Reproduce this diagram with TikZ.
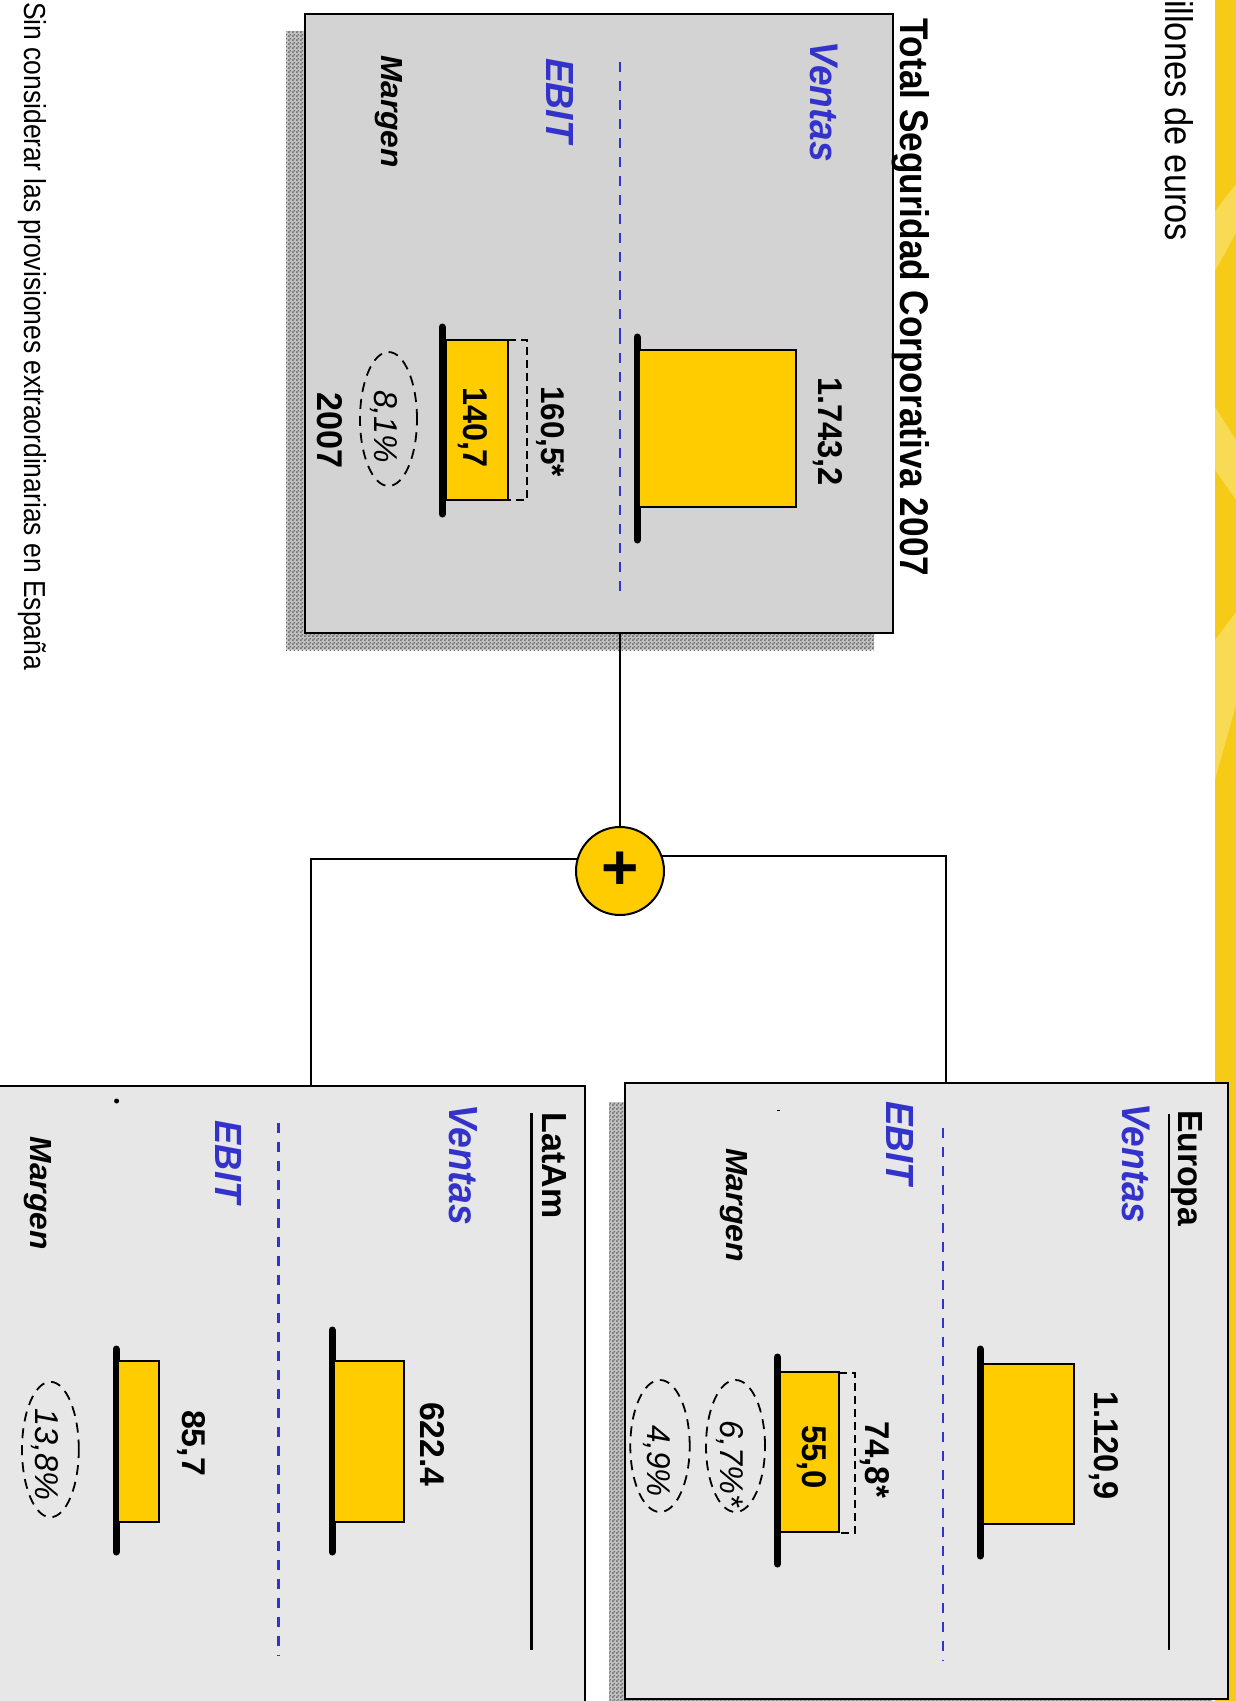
\documentclass[tikz,border=0pt]{standalone}
\usepackage{fontspec}
\setmainfont{Liberation Sans}
\usepackage{graphicx}
\usetikzlibrary{patterns}
\definecolor{bandyellow}{HTML}{F5CB17}
\definecolor{streak}{HTML}{F8DA55}
\definecolor{barfill}{HTML}{FFCC00}
\definecolor{topgray}{HTML}{D3D3D3}
\definecolor{boxgray}{HTML}{E7E7E7}
\definecolor{lblblue}{HTML}{3333CC}
\definecolor{shadowgray}{HTML}{6E6E6E}
\definecolor{shadowbase}{HTML}{C4C4C4}
\pgfdeclarepatternformonly{chk}{\pgfpointorigin}{\pgfpoint{4pt}{4pt}}{\pgfpoint{4pt}{4pt}}{%
 \pgfpathrectangle{\pgfpointorigin}{\pgfpoint{2pt}{2pt}}%
 \pgfpathrectangle{\pgfpoint{2pt}{2pt}}{\pgfpoint{2pt}{2pt}}%
 \pgfusepath{fill}}
\newcommand{\fitt}[3]{\resizebox{#1pt}{#2pt}{#3}}
\tikzset{
 txt/.style={rotate=-90, anchor=base west, inner sep=0pt, outer sep=0pt},
 bluetxt/.style={txt, text=lblblue},
 panel/.style={draw=black, line width=2.8pt, inner sep=0pt, outer sep=0pt},
 conn/.style={draw=black, line width=2pt},
 baseaxis/.style={line width=7pt, line cap=round},
 bar/.style={draw=black, line width=1.8pt, fill=barfill},
 extdash/.style={draw=black, line width=1.8pt, dash pattern=on 8pt off 5pt},
 bluedash/.style={draw=lblblue, dash pattern=on 10pt off 9pt},
 elldash/.style={draw=black, line width=1.8pt, dash pattern=on 10pt off 7pt},
 shadow/.style={pattern=chk, pattern color=shadowgray}
}
\begin{document}
\begin{tikzpicture}[x=1pt, y=-1pt]
\path[use as bounding box] (0,0) rectangle (1236,1701);
\clip (0,0) rectangle (1236,1701);
\fill[white] (0,0) rectangle (1236,1701);
% yellow band at the right
\fill[bandyellow] (1215,0) rectangle (1236,1701);
\fill[streak] (1215,211) -- (1236,184) -- (1236,233) -- (1215,271) -- cycle;
\fill[streak] (1215,407) -- (1236,440) -- (1236,500) -- (1215,470) -- cycle;
\fill[streak] (1215,640) -- (1236,612) -- (1236,705) -- (1215,780) -- cycle;
% unit
\node[txt] (unit) at (1165,0) {\fitt{241}{28}{illones de euros}};
% footnote
\node[txt] (foot) at (24,2) {\fitt{668}{22}{Sin considerar las provisiones extraordinarias en España}};

% shadows
\fill[shadowbase] (286,31) rectangle (874,650);
\fill[shadow] (286,31) rectangle (874,650);
\fill[shadowbase] (609,1102) rectangle (1212,1720);
\fill[shadow] (609,1102) rectangle (1212,1720);

% panels
\node[panel, fill=topgray, minimum width=588pt, minimum height=619pt] (topbox) at (599,323.5) {};
\node[panel, fill=boxgray, minimum width=603pt, minimum height=616pt] (europa) at (926.5,1391) {};
\node[panel, fill=boxgray, minimum width=586pt, minimum height=634pt] (latam) at (292,1403) {};

% sum circle and connectors
\node[draw=black, line width=2pt, circle, fill=barfill, minimum size=88pt, inner sep=0pt] (plus) at (620,871) {\fontsize{64}{64}\selectfont\bfseries +};
\coordinate (latamjoin) at (311,1086);
\coordinate (europajoin) at (946,1083);
\draw[conn] (plus.north) -- (plus.north |- topbox.south);
\draw[conn] (plus.165) -| (latamjoin);
\draw[conn] (plus.20) -| (europajoin);

% ===== Total box =====
\node[txt] (ttitle) at (900,18) {\fitt{558}{29}{\bfseries Total Seguridad Corporativa 2007}};
\node[bluetxt] (tventas) at (810,41.7) {\fitt{120}{27.5}{\bfseries\itshape Ventas}};
\node[bluetxt] (tebit) at (546,58) {\fitt{85}{27}{\bfseries\itshape EBIT}};
\node[txt] (tmargen) at (381,55) {\fitt{113}{21}{\bfseries\itshape Margen}};
\draw[bluedash, line width=1.2pt] (620,62) -- (620,334);
\draw[bluedash, line width=2.2pt] (620,334) -- (620,594);
\draw[baseaxis] (637,337) -- (637,540);
\draw[bar] (639,350) rectangle (796,507);
\node[txt] (tv) at (818,377) {\fitt{109}{24}{\bfseries 1.743,2}};
\draw[baseaxis] (442,327) -- (442,514);
\draw[bar] (446,340) rectangle (508,500);
\draw[extdash] (508,340) -- (527,340) -- (527,500) -- (508,500);
\node[txt] (te) at (463,387) {\fitt{81}{24}{\bfseries 140,7}};
\node[txt] (tes) at (541,386) {\fitt{91}{23}{\bfseries 160,5*}};
\draw[elldash] (388.5,419) ellipse [x radius=28.5pt, y radius=67pt];
\node[txt] (tm) at (374,390) {\fitt{73}{23}{\itshape 8,1\%}};
\node[txt] (tyear) at (317,392.5) {\fitt{76}{25}{\bfseries 2007}};

% ===== Europa =====
\node[txt] (etitle) at (1178,1110) {\fitt{116}{24}{\bfseries Europa}};
\draw[line width=2.5pt] (1169,1114) -- (1169,1650);
\node[bluetxt] (eventas) at (1122,1103.5) {\fitt{120}{27.5}{\bfseries\itshape Ventas}};
\node[bluetxt] (eebit) at (886,1101) {\fitt{84}{27}{\bfseries\itshape EBIT}};
\node[txt] (emargen) at (726,1148) {\fitt{114}{21}{\bfseries\itshape Margen}};
\fill (776.5,1109.5) rectangle (780,1111);
\draw[bluedash, line width=2.2pt] (943,1128) -- (943,1661);
\draw[baseaxis] (980,1349) -- (980,1556);
\draw[bar] (983,1364) rectangle (1074,1524);
\node[txt] (ev) at (1094,1391) {\fitt{108.5}{24}{\bfseries 1.120,9}};
\draw[baseaxis] (777.5,1357) -- (777.5,1564);
\draw[bar] (780,1372) rectangle (839,1532);
\draw[extdash] (839,1373) -- (855,1373) -- (855,1533) -- (839,1533);
\node[txt] (ee) at (802,1425) {\fitt{64}{24}{\bfseries 55,0}};
\node[txt] (ees) at (865,1421) {\fitt{77}{24}{\bfseries 74,8*}};
\draw[elldash] (735.5,1446) ellipse [x radius=29.5pt, y radius=66pt];
\node[txt] (ems) at (720,1420) {\fitt{86.7}{23}{\itshape 6,7\%*}};
\draw[elldash] (660,1446) ellipse [x radius=29.7pt, y radius=66pt];
\node[txt] (em) at (647,1425) {\fitt{71.7}{23}{\itshape 4,9\%}};

% ===== LatAm =====
\node[txt] (ltitle) at (542.5,1112.7) {\fitt{105.6}{24}{\bfseries LatAm}};
\draw[line width=2.5pt] (531.6,1112.7) -- (531.6,1650);
\node[bluetxt] (lventas) at (449,1104) {\fitt{121}{28}{\bfseries\itshape Ventas}};
\node[bluetxt] (lebit) at (215,1120.7) {\fitt{82.6}{26}{\bfseries\itshape EBIT}};
\node[txt] (lmargen) at (30,1136.7) {\fitt{113}{21}{\bfseries\itshape Margen}};
\fill (116.6,1101) circle (2.5pt);
\draw[bluedash, line width=2.2pt] (278.4,1123) -- (278.4,1656);
\draw[baseaxis] (332,1330) -- (332,1552);
\draw[bar] (334,1361) rectangle (404,1522);
\node[txt] (lv) at (420,1402) {\fitt{84.5}{24}{\bfseries 622.4}};
\draw[baseaxis] (116,1349) -- (116,1552);
\draw[bar] (118,1361) rectangle (159,1522);
\node[txt] (le) at (182,1410) {\fitt{66}{23}{\bfseries 85,7}};
\draw[elldash] (50.4,1449.5) ellipse [x radius=28.4pt, y radius=67.7pt];
\node[txt] (lm) at (36,1408.6) {\fitt{92}{23}{\itshape 13,8\%}};
\end{tikzpicture}
\end{document}
